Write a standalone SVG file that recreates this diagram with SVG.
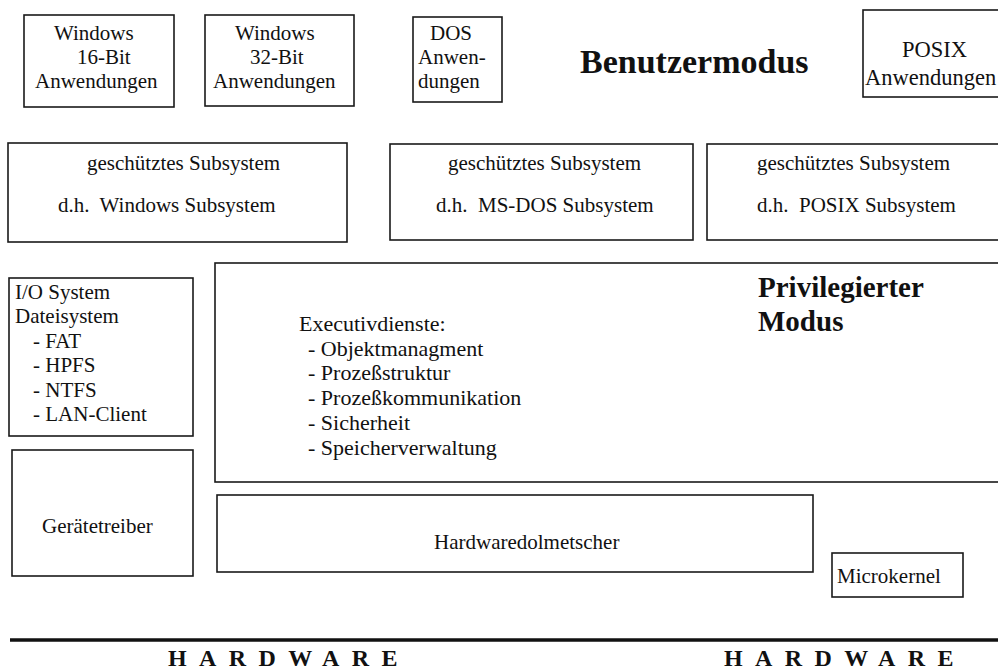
<svg xmlns="http://www.w3.org/2000/svg" width="998" height="672" viewBox="0 0 998 672">
<style>
rect.box{fill:#fff;stroke:#1a1a1a;stroke-width:1.6}
text{font-family:"Liberation Serif","Times New Roman",serif;fill:#111;font-size:21px}
.big{font-size:34px;font-weight:bold}
.mid{font-size:29px;font-weight:bold}
.hw{font-size:24px;font-weight:bold;letter-spacing:12.4px}
.ex{font-size:22px}
</style>
<rect width="998" height="672" fill="#fff"/>
<g id="win16">
<rect class="box" x="24" y="15" width="150" height="92"/>
<text x="54" y="40">Windows</text>
<text x="77" y="64">16-Bit</text>
<text x="35" y="88">Anwendungen</text>
</g>
<g id="win32">
<rect class="box" x="205" y="15" width="149" height="91"/>
<text x="235" y="40">Windows</text>
<text x="250" y="64">32-Bit</text>
<text x="213" y="88">Anwendungen</text>
</g>
<g id="dos">
<rect class="box" x="413" y="17" width="89" height="85"/>
<text x="430" y="40">DOS</text>
<text x="418" y="64">Anwen-</text>
<text x="418" y="88">dungen</text>
</g>
<g id="benutzermodus">
<text class="big" x="580" y="73">Benutzermodus</text>
</g>
<g id="posix">
<rect class="box" x="863" y="10" width="140" height="87"/>
<text x="902" y="57" style="font-size:22.5px">POSIX</text>
<text x="865" y="85" style="font-size:22.5px">Anwendungen</text>
</g>
<g id="win-subsystem">
<rect class="box" x="8" y="143" width="339" height="99"/>
<text x="87" y="170">geschütztes Subsystem</text>
<text x="58" y="212" xml:space="preserve">d.h.  Windows Subsystem</text>
</g>
<g id="dos-subsystem">
<rect class="box" x="390" y="144" width="303" height="96"/>
<text x="448" y="170">geschütztes Subsystem</text>
<text x="436" y="212" xml:space="preserve">d.h.  MS-DOS Subsystem</text>
</g>
<g id="posix-subsystem">
<rect class="box" x="707" y="144" width="300" height="96"/>
<text x="757" y="170">geschütztes Subsystem</text>
<text x="757" y="212" xml:space="preserve">d.h.  POSIX Subsystem</text>
</g>
<g id="io-system">
<rect class="box" x="9" y="278" width="184" height="158"/>
<text x="15" y="299">I/O System</text>
<text x="15" y="323">Dateisystem</text>
<text x="33" y="348">- FAT</text>
<text x="33" y="372">- HPFS</text>
<text x="33" y="397">- NTFS</text>
<text x="33" y="421">- LAN-Client</text>
</g>
<g id="executive">
<rect class="box" x="215" y="263" width="790" height="219"/>
<text class="ex" x="299" y="331">Executivdienste:</text>
<text class="ex" x="308" y="356">- Objektmanagment</text>
<text class="ex" x="308" y="380">- Prozeßstruktur</text>
<text class="ex" x="308" y="405">- Prozeßkommunikation</text>
<text class="ex" x="308" y="430">- Sicherheit</text>
<text class="ex" x="308" y="455">- Speicherverwaltung</text>
<text class="mid" x="758" y="297">Privilegierter</text>
<text class="mid" x="758" y="331">Modus</text>
</g>
<g id="geraetetreiber">
<rect class="box" x="12" y="450" width="181" height="126"/>
<text x="42" y="533">Gerätetreiber</text>
</g>
<g id="hal">
<rect class="box" x="217" y="495" width="596" height="77"/>
<text x="434" y="549">Hardwaredolmetscher</text>
</g>
<g id="microkernel">
<rect class="box" x="832" y="553" width="131" height="44"/>
<text x="837" y="583">Microkernel</text>
</g>
<g id="connectors"></g>
<g id="hardware">
<line x1="10" y1="640" x2="998" y2="640" stroke="#111" stroke-width="3.5"/>
<text class="hw" x="168" y="666">HARDWARE</text>
<text class="hw" x="724" y="666">HARDWARE</text>
</g>
</svg>
